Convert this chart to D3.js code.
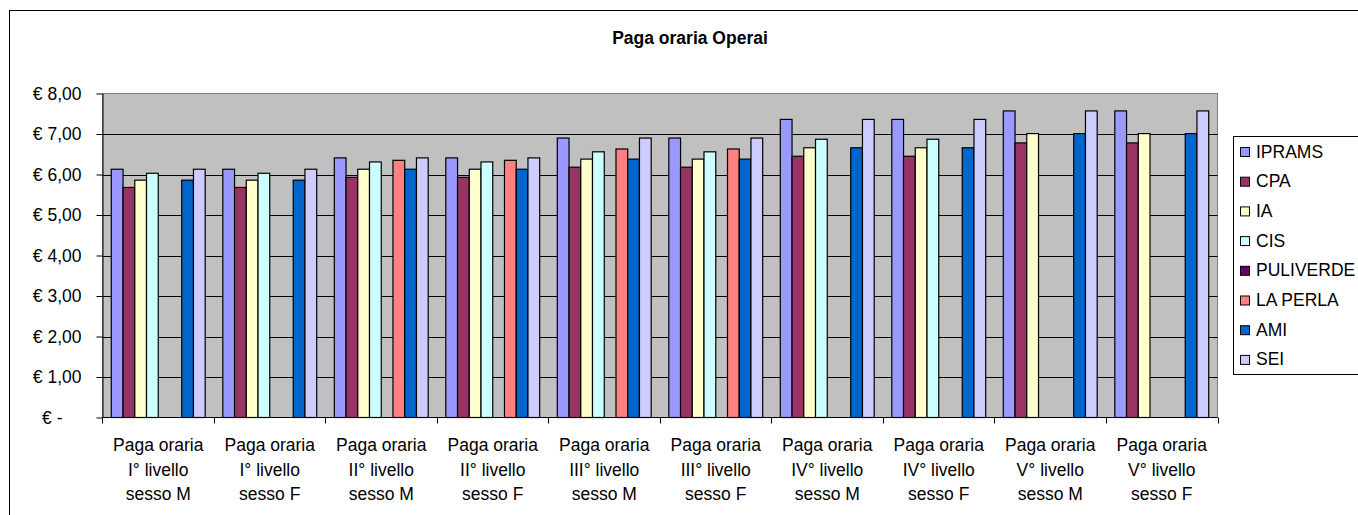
<!DOCTYPE html>
<html><head><meta charset="utf-8">
<script src="https://cdn.jsdelivr.net/npm/d3@7"></script>
<style>
html,body{margin:0;padding:0;background:#fff;overflow:hidden}
text{font-family:Arial,"Liberation Sans",sans-serif;fill:#000}
</style></head>
<body><svg id="c" width="1358" height="515"></svg>
<script>
const title = "Paga oraria Operai";
const categories = [
  ["Paga oraria","I° livello","sesso M"],
  ["Paga oraria","I° livello","sesso F"],
  ["Paga oraria","II° livello","sesso M"],
  ["Paga oraria","II° livello","sesso F"],
  ["Paga oraria","III° livello","sesso M"],
  ["Paga oraria","III° livello","sesso F"],
  ["Paga oraria","IV° livello","sesso M"],
  ["Paga oraria","IV° livello","sesso F"],
  ["Paga oraria","V° livello","sesso M"],
  ["Paga oraria","V° livello","sesso F"]
];
const seriesNames = ["IPRAMS","CPA","IA","CIS","PULIVERDE","LA PERLA","AMI","SEI"];
const seriesColors = ["#9999FF","#993366","#FFFFCC","#CCFFFF","#660066","#FF8080","#0066CC","#CCCCFF"];
const IPRAMS    = [6.13,6.13,6.41,6.41,6.90,6.90,7.36,7.36,7.57,7.57];
const CPA       = [5.68,5.68,5.93,5.93,6.18,6.18,6.45,6.45,6.78,6.78];
const IA        = [5.86,5.86,6.13,6.13,6.38,6.38,6.66,6.66,7.01,7.01];
const CIS       = [6.03,6.03,6.31,6.31,6.56,6.56,6.87,6.87,null,null];
const PULIVERDE = [null,null,null,null,null,null,null,null,null,null];
const LA_PERLA  = [null,null,6.35,6.35,6.63,6.63,null,null,null,null];
const AMI       = [5.86,5.86,6.13,6.13,6.38,6.38,6.66,6.66,7.01,7.01];
const SEI       = [6.13,6.13,6.41,6.41,6.90,6.90,7.36,7.36,7.57,7.57];
const seriesValues = [IPRAMS,CPA,IA,CIS,PULIVERDE,LA_PERLA,AMI,SEI];
const yTicks = [0,1,2,3,4,5,6,7,8];

const svg = d3.select("#c");
const FS = 17.5;
// outer chart border
svg.append("rect").attr("x",9.5).attr("y",10.5).attr("width",1400).attr("height",600)
  .attr("fill","#fff").attr("stroke","#000").attr("stroke-width",1);

svg.append("text").attr("x",690).attr("y",43.5).attr("text-anchor","middle")
  .style("font-size","17.5px").style("font-weight","bold").text(title);

const L = 102.5, R = 1217.5, T = 93.5, B = 417.5;
const catIdx = categories.map((d,i)=>i);
const p = 1.5/9.5;
const x0 = d3.scaleBand().domain(catIdx).range([L,R]).paddingInner(p).paddingOuter(p/2);
const x1 = d3.scaleBand().domain(seriesNames).range([0,x0.bandwidth()]);
const y = d3.scaleLinear().domain([0,8]).range([B,T]);

// plot background
svg.append("rect").attr("x",L).attr("y",T).attr("width",R-L).attr("height",B-T)
  .attr("fill","#C0C0C0").attr("stroke","#808080").attr("stroke-width",1);

// gridlines
svg.append("g").selectAll("line").data(yTicks.filter(v=>v>0&&v<8)).join("line")
  .attr("x1",L).attr("x2",R).attr("y1",d=>Math.round(y(d))+0.5).attr("y2",d=>Math.round(y(d))+0.5)
  .attr("stroke","#000").attr("stroke-width",1);

// bars
const g = svg.append("g");
categories.forEach((c,ci)=>{
  seriesNames.forEach((s,si)=>{
    const v = seriesValues[si][ci];
    if(v==null) return;
    g.append("rect")
      .attr("x",x0(ci)+x1(s)).attr("y",y(v))
      .attr("width",x1.bandwidth()).attr("height",y(0)-y(v))
      .attr("fill",seriesColors[si]).attr("stroke","#000").attr("stroke-width",1.2);
  });
});

// y axis
const yAxis = d3.axisLeft(y).tickValues(yTicks).tickSize(6).tickSizeOuter(0)
  .tickFormat(d=> d===0 ? "€ -" : "€ " + d3.format(".2f")(d).replace(".",","));
const ya = svg.append("g").attr("transform",`translate(${L},0)`).call(yAxis);
ya.select(".domain").attr("stroke","#000");
ya.selectAll(".tick line").attr("stroke","#000");
ya.selectAll(".tick text").attr("x",-21).style("font-size",FS+"px")
  .style("font-family","Arial, 'Liberation Sans', sans-serif").attr("fill","#000");
ya.selectAll(".tick text").filter(d=>d===0).attr("x",-40);

// x axis line and ticks at boundaries
svg.append("line").attr("x1",L).attr("x2",R).attr("y1",B).attr("y2",B).attr("stroke","#000");
const step = x0.step();
const bounds = d3.range(categories.length+1).map(i=>x0(0) - x0.paddingOuter()*step + i*step);
svg.append("g").selectAll("line").data(bounds).join("line")
  .attr("x1",d=>Math.round(d)+0.5).attr("x2",d=>Math.round(d)+0.5)
  .attr("y1",B).attr("y2",B+6).attr("stroke","#000");

// category labels
const cl = svg.append("g").selectAll("text").data(categories).join("text")
  .attr("text-anchor","middle").style("font-size",FS+"px");
cl.each(function(d,i){
  const t = d3.select(this);
  const cx = x0(i)+x0.bandwidth()/2;
  d.forEach((line,li)=>{
    t.append("tspan").attr("x",cx).attr("y",451+li*24.7).text(line);
  });
});

// legend
svg.append("rect").attr("x",1233.5).attr("y",136.5).attr("width",200).attr("height",238)
  .attr("fill","#fff").attr("stroke","#000").attr("stroke-width",1);
const lg = svg.append("g").selectAll("g").data(seriesNames).join("g")
  .attr("transform",(d,i)=>`translate(0,${151 + i*29.7})`);
lg.append("rect").attr("x",1240.5).attr("y",-3.5).attr("width",9).attr("height",9)
  .attr("fill",(d,i)=>seriesColors[i]).attr("stroke","#000").attr("stroke-width",1);
lg.append("text").attr("x",1256).attr("y",6.5).style("font-size",FS+"px").text(d=>d);
</script></body></html>
